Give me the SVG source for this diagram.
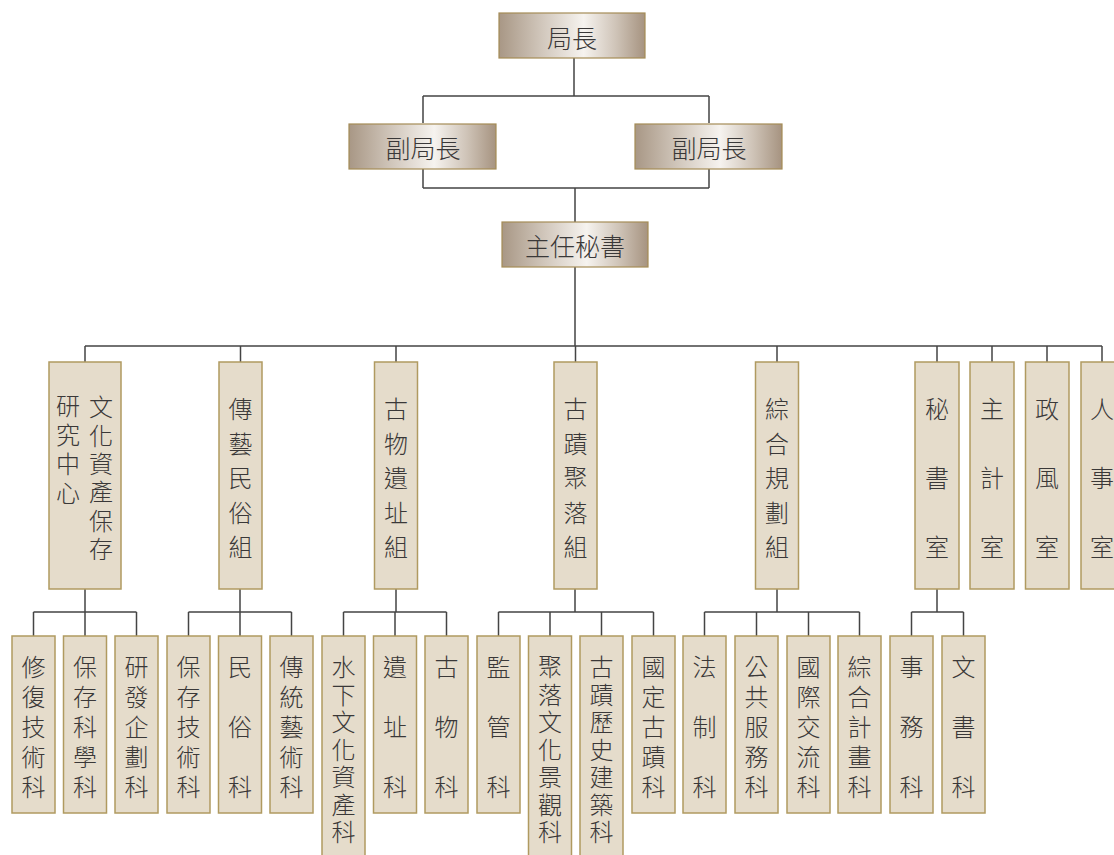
<svg xmlns="http://www.w3.org/2000/svg" width="1114" height="855" viewBox="0 0 1114 855">
<defs>
<linearGradient id="metal" x1="0" y1="0" x2="1" y2="0">
<stop offset="0" stop-color="#a89785"/>
<stop offset="0.3" stop-color="#d2c8bd"/>
<stop offset="0.58" stop-color="#f6f3ef"/>
<stop offset="0.8" stop-color="#cfc4b8"/>
<stop offset="1" stop-color="#a69380"/>
</linearGradient>
<style>
.top rect{fill:url(#metal);stroke:#a58c56;stroke-width:1.2}
.box rect{fill:#e5dccb;stroke:#b09a60;stroke-width:1.5}
text{font-family:"Noto Sans CJK TC","Noto Sans CJK SC",sans-serif;font-weight:300;fill:#3a3838;text-anchor:middle;dominant-baseline:central}
.top text{font-size:25px}
.box text{font-size:24px}
#connectors path{fill:none;stroke:#444;stroke-width:1.5}
</style>
</defs>
<rect width="1114" height="855" fill="#fff"/>
<g id="connectors">
<path d="M574 58V96M423 96H709M423 96V123M709 96V123"/>
<path d="M423 169V188M709 169V188M423 188H709M575 188V222"/>
<path d="M575 267V346M85 346H1102M85 346V362M240.5 346V362M396 346V362M575.5 346V362M777 346V362M937 346V362M992 346V362M1047 346V362M1102 346V362"/>
<path d="M85 589V636M33.5 612H136.5M33.5 612V636M136.5 612V636"/>
<path d="M240 589V636M188.5 612H291.5M188.5 612V636M291.5 612V636"/>
<path d="M396 589V612M343.5 612H446.5M343.5 612V636M395 612V636M446.5 612V636"/>
<path d="M575 589V612M498.5 612H653.5M498.5 612V636M550 612V636M601.5 612V636M653.5 612V636"/>
<path d="M777 589V612M704.5 612H859.5M704.5 612V636M756.5 612V636M808.5 612V636M859.5 612V636"/>
<path d="M937 589V612M911.5 612H963.5M911.5 612V636M963.5 612V636"/>
</g>
<g id="director" class="top"><rect x="499" y="13" width="146" height="45"/><text x="572" y="37">局長</text></g>
<g id="deputy1" class="top"><rect x="349" y="124" width="147" height="45"/><text x="423" y="147">副局長</text></g>
<g id="deputy2" class="top"><rect x="635" y="124" width="147" height="45"/><text x="709" y="147">副局長</text></g>
<g id="secretary" class="top"><rect x="502" y="222" width="146" height="45"/><text x="575" y="245">主任秘書</text></g>

<g id="n-center" class="box"><rect x="49" y="362" width="72" height="227"/>
<text><tspan x="101" y="405">文</tspan><tspan x="101" y="433.5">化</tspan><tspan x="101" y="462">資</tspan><tspan x="101" y="490">產</tspan><tspan x="101" y="518.5">保</tspan><tspan x="101" y="547">存</tspan></text>
<text><tspan x="68" y="404">研</tspan><tspan x="68" y="433">究</tspan><tspan x="68" y="462">中</tspan><tspan x="68" y="491">心</tspan></text></g>
<g id="n-folk" class="box"><rect x="219" y="362" width="43" height="227"/>
<text><tspan x="240.5" y="407">傳</tspan><tspan x="240.5" y="441.5">藝</tspan><tspan x="240.5" y="476">民</tspan><tspan x="240.5" y="510.5">俗</tspan><tspan x="240.5" y="545">組</tspan></text></g>
<g id="n-relic" class="box"><rect x="374.5" y="362" width="43" height="227"/>
<text><tspan x="396" y="407">古</tspan><tspan x="396" y="441.5">物</tspan><tspan x="396" y="476">遺</tspan><tspan x="396" y="510.5">址</tspan><tspan x="396" y="545">組</tspan></text></g>
<g id="n-monument" class="box"><rect x="554" y="362" width="43" height="227"/>
<text><tspan x="575.5" y="407">古</tspan><tspan x="575.5" y="441.5">蹟</tspan><tspan x="575.5" y="476">聚</tspan><tspan x="575.5" y="510.5">落</tspan><tspan x="575.5" y="545">組</tspan></text></g>
<g id="n-plan" class="box"><rect x="755.5" y="362" width="43" height="227"/>
<text><tspan x="777" y="407">綜</tspan><tspan x="777" y="441.5">合</tspan><tspan x="777" y="476">規</tspan><tspan x="777" y="510.5">劃</tspan><tspan x="777" y="545">組</tspan></text></g>
<g id="n-sec" class="box"><rect x="915" y="362" width="44" height="227"/>
<text><tspan x="937" y="407">秘</tspan><tspan x="937" y="476">書</tspan><tspan x="937" y="545">室</tspan></text></g>
<g id="n-acct" class="box"><rect x="970" y="362" width="44" height="227"/>
<text><tspan x="992" y="407">主</tspan><tspan x="992" y="476">計</tspan><tspan x="992" y="545">室</tspan></text></g>
<g id="n-ethics" class="box"><rect x="1025.5" y="362" width="43.5" height="227"/>
<text><tspan x="1047" y="407">政</tspan><tspan x="1047" y="476">風</tspan><tspan x="1047" y="545">室</tspan></text></g>
<g id="n-hr" class="box"><rect x="1081" y="362" width="43" height="227"/>
<text><tspan x="1102" y="407">人</tspan><tspan x="1102" y="476">事</tspan><tspan x="1102" y="545">室</tspan></text></g>

<g id="s1" class="box"><rect x="12" y="636" width="43" height="177"/><text><tspan x="33.5" y="665">修</tspan><tspan x="33.5" y="695">復</tspan><tspan x="33.5" y="725">技</tspan><tspan x="33.5" y="755">術</tspan><tspan x="33.5" y="785">科</tspan></text></g>
<g id="s2" class="box"><rect x="63.5" y="636" width="43" height="177"/><text><tspan x="85" y="665">保</tspan><tspan x="85" y="695">存</tspan><tspan x="85" y="725">科</tspan><tspan x="85" y="755">學</tspan><tspan x="85" y="785">科</tspan></text></g>
<g id="s3" class="box"><rect x="115" y="636" width="43" height="177"/><text><tspan x="136.5" y="665">研</tspan><tspan x="136.5" y="695">發</tspan><tspan x="136.5" y="725">企</tspan><tspan x="136.5" y="755">劃</tspan><tspan x="136.5" y="785">科</tspan></text></g>
<g id="s4" class="box"><rect x="167" y="636" width="43" height="177"/><text><tspan x="188.5" y="665">保</tspan><tspan x="188.5" y="695">存</tspan><tspan x="188.5" y="725">技</tspan><tspan x="188.5" y="755">術</tspan><tspan x="188.5" y="785">科</tspan></text></g>
<g id="s5" class="box"><rect x="218.5" y="636" width="43" height="177"/><text><tspan x="240" y="665">民</tspan><tspan x="240" y="725">俗</tspan><tspan x="240" y="785">科</tspan></text></g>
<g id="s6" class="box"><rect x="270" y="636" width="43" height="177"/><text><tspan x="291.5" y="665">傳</tspan><tspan x="291.5" y="695">統</tspan><tspan x="291.5" y="725">藝</tspan><tspan x="291.5" y="755">術</tspan><tspan x="291.5" y="785">科</tspan></text></g>
<g id="s7" class="box"><rect x="322" y="636" width="43" height="230"/><text><tspan x="343.5" y="665">水</tspan><tspan x="343.5" y="692.5">下</tspan><tspan x="343.5" y="720">文</tspan><tspan x="343.5" y="747.5">化</tspan><tspan x="343.5" y="775">資</tspan><tspan x="343.5" y="802.5">產</tspan><tspan x="343.5" y="830">科</tspan></text></g>
<g id="s8" class="box"><rect x="373.5" y="636" width="43" height="177"/><text><tspan x="395" y="665">遺</tspan><tspan x="395" y="725">址</tspan><tspan x="395" y="785">科</tspan></text></g>
<g id="s9" class="box"><rect x="425" y="636" width="43" height="177"/><text><tspan x="446.5" y="665">古</tspan><tspan x="446.5" y="725">物</tspan><tspan x="446.5" y="785">科</tspan></text></g>
<g id="s10" class="box"><rect x="477" y="636" width="43" height="177"/><text><tspan x="498.5" y="665">監</tspan><tspan x="498.5" y="725">管</tspan><tspan x="498.5" y="785">科</tspan></text></g>
<g id="s11" class="box"><rect x="528.5" y="636" width="43" height="230"/><text><tspan x="550" y="665">聚</tspan><tspan x="550" y="692.5">落</tspan><tspan x="550" y="720">文</tspan><tspan x="550" y="747.5">化</tspan><tspan x="550" y="775">景</tspan><tspan x="550" y="802.5">觀</tspan><tspan x="550" y="830">科</tspan></text></g>
<g id="s12" class="box"><rect x="580" y="636" width="43" height="230"/><text><tspan x="601.5" y="665">古</tspan><tspan x="601.5" y="692.5">蹟</tspan><tspan x="601.5" y="720">歷</tspan><tspan x="601.5" y="747.5">史</tspan><tspan x="601.5" y="775">建</tspan><tspan x="601.5" y="802.5">築</tspan><tspan x="601.5" y="830">科</tspan></text></g>
<g id="s13" class="box"><rect x="632" y="636" width="43" height="177"/><text><tspan x="653.5" y="665">國</tspan><tspan x="653.5" y="695">定</tspan><tspan x="653.5" y="725">古</tspan><tspan x="653.5" y="755">蹟</tspan><tspan x="653.5" y="785">科</tspan></text></g>
<g id="s14" class="box"><rect x="683" y="636" width="43" height="177"/><text><tspan x="704.5" y="665">法</tspan><tspan x="704.5" y="725">制</tspan><tspan x="704.5" y="785">科</tspan></text></g>
<g id="s15" class="box"><rect x="735" y="636" width="43" height="177"/><text><tspan x="756.5" y="665">公</tspan><tspan x="756.5" y="695">共</tspan><tspan x="756.5" y="725">服</tspan><tspan x="756.5" y="755">務</tspan><tspan x="756.5" y="785">科</tspan></text></g>
<g id="s16" class="box"><rect x="787" y="636" width="43" height="177"/><text><tspan x="808.5" y="665">國</tspan><tspan x="808.5" y="695">際</tspan><tspan x="808.5" y="725">交</tspan><tspan x="808.5" y="755">流</tspan><tspan x="808.5" y="785">科</tspan></text></g>
<g id="s17" class="box"><rect x="838" y="636" width="43" height="177"/><text><tspan x="859.5" y="665">綜</tspan><tspan x="859.5" y="695">合</tspan><tspan x="859.5" y="725">計</tspan><tspan x="859.5" y="755">畫</tspan><tspan x="859.5" y="785">科</tspan></text></g>
<g id="s18" class="box"><rect x="890" y="636" width="43" height="177"/><text><tspan x="911.5" y="665">事</tspan><tspan x="911.5" y="725">務</tspan><tspan x="911.5" y="785">科</tspan></text></g>
<g id="s19" class="box"><rect x="942" y="636" width="43" height="177"/><text><tspan x="963.5" y="665">文</tspan><tspan x="963.5" y="725">書</tspan><tspan x="963.5" y="785">科</tspan></text></g>
</svg>
